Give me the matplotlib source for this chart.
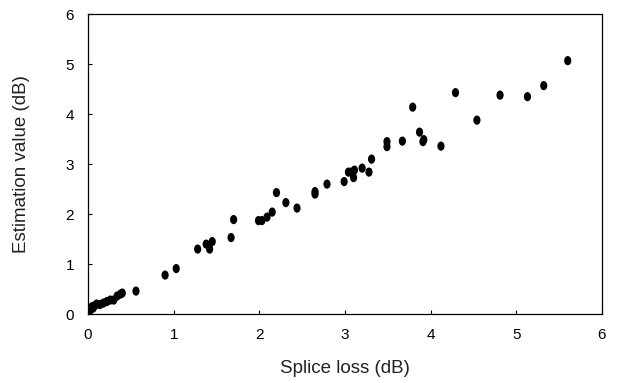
import numpy as np
import matplotlib.pyplot as plt
from matplotlib.markers import MarkerStyle
from matplotlib.transforms import Affine2D

# splice loss (dB) vs estimation value (dB)
splice_loss = [0.01, 0.02, 0.03, 0.04, 0.05, 0.06, 0.08, 0.10, 0.14, 0.18,
               0.22, 0.26, 0.30, 0.34, 0.38, 0.40, 0.56, 0.90, 1.03, 1.28,
               1.38, 1.42, 1.45, 1.67, 1.70, 1.99, 2.03, 2.09, 2.15, 2.20,
               2.31, 2.44, 2.65, 2.65, 2.79, 2.99, 3.04, 3.07, 3.10, 3.11,
               3.20, 3.28, 3.31, 3.49, 3.49, 3.67, 3.79, 3.87, 3.91, 3.92,
               4.12, 4.29, 4.54, 4.81, 5.13, 5.32, 5.60]
estimation = [0.04, 0.07, 0.10, 0.13, 0.15, 0.12, 0.17, 0.20, 0.19, 0.22,
              0.25, 0.28, 0.28, 0.36, 0.40, 0.42, 0.46, 0.78, 0.91, 1.30,
              1.40, 1.30, 1.45, 1.53, 1.89, 1.87, 1.87, 1.94, 2.04, 2.43,
              2.23, 2.12, 2.40, 2.45, 2.60, 2.65, 2.84, 2.84, 2.73, 2.88,
              2.92, 2.84, 3.10, 3.35, 3.45, 3.46, 4.14, 3.64, 3.45, 3.49,
              3.36, 4.43, 3.88, 4.38, 4.35, 4.57, 5.07]

plt.rcParams['font.family'] = ['Liberation Sans', 'DejaVu Sans']

fig = plt.figure(figsize=(6.18, 3.83), dpi=100)
ax = fig.add_axes([0.1424, 0.180, 0.8317, 0.783])

# tall ellipse marker like the original
mk = MarkerStyle('o', transform=Affine2D().scale(0.78, 1.0))
ax.scatter(splice_loss, estimation, marker=mk, s=44, color='black',
           edgecolors='none', zorder=3)

ax.set_xlim(0, 6)
ax.set_ylim(0, 6)
ax.set_xticks(range(7))
ax.set_yticks(range(7))
ax.tick_params(direction='in', length=3, labelsize=11, colors='black')
ax.tick_params(axis='x', pad=10)
ax.tick_params(axis='y', pad=10)
for s in ax.spines.values():
    s.set_linewidth(0.9)

ax.set_xlabel('Splice loss (dB)', fontsize=13.5, color='#222222', labelpad=13)
ax.set_ylabel('Estimation value (dB)', fontsize=13.5, color='#222222', labelpad=26)

fig.savefig('out.png', dpi=100)
